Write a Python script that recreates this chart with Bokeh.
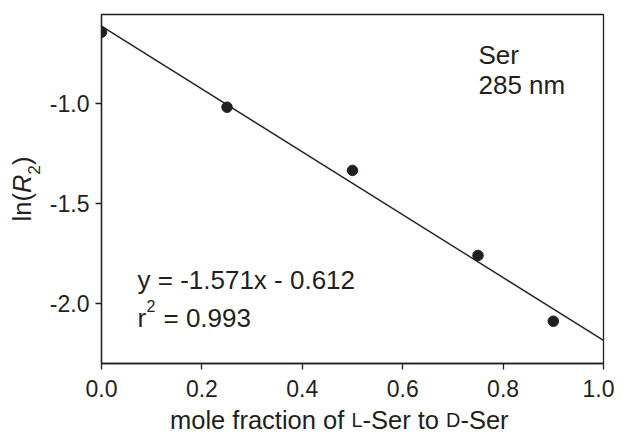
import math
from bokeh.plotting import figure
from bokeh.layouts import column, row
from bokeh.models import Range1d, Label, FixedTicker, PrintfTickFormatter
from bokeh.embed import file_html
from bokeh.resources import INLINE

# ---- data ----
x_frac = [0.0, 0.25, 0.5, 0.75, 0.9]
ln_r2 = [-0.642, -1.017, -1.333, -1.758, -2.087]
fit_slope = -1.571
fit_intercept = -0.612
fit_x = [0.0, 1.0]
x_ticks = [0.0, 0.2, 0.4, 0.6, 0.8, 1.0]
y_ticks = [-2.0, -1.5, -1.0]
x_lim = (0.0, 1.0)
y_lim = (-2.2985, -0.5535)
eq_text = "y = -1.571x - 0.612"
r2_text = "= 0.993"
species = "Ser"
wavelength = "285 nm"

FONT = "Liberation Sans"
INK = "#231f20"

fit_y = [fit_slope * v + fit_intercept for v in fit_x]

YL_W = 46
MAIN_W = 568
MAIN_H = 404
XL_H = 30
TOTAL_W = YL_W + MAIN_W
BASE_FIX = 0.4   # em shift that puts Bokeh's label baseline where intended

p = figure(width=MAIN_W, height=MAIN_H, x_range=Range1d(*x_lim), y_range=Range1d(*y_lim),
           output_backend="svg", toolbar_location=None, title=None,
           min_border_left=101 - YL_W, min_border_right=11, min_border_top=14,
           min_border_bottom=MAIN_H - 363)
p.background_fill_color = "white"
p.border_fill_color = "white"
p.grid.visible = False
p.outline_line_color = INK
p.outline_line_width = 1.3

for ax in (p.xaxis[0], p.yaxis[0]):
    ax.axis_line_color = INK
    ax.axis_line_width = 1.3
    ax.major_tick_line_color = INK
    ax.major_tick_line_width = 1.3
    ax.major_tick_in = 0
    ax.major_tick_out = 6
    ax.minor_tick_line_color = None
    ax.major_label_text_font = FONT
    ax.major_label_text_font_size = "23px"
    ax.major_label_text_color = INK
    ax.formatter = PrintfTickFormatter(format="%.1f")
    ax.axis_label = None
p.xaxis.ticker = FixedTicker(ticks=x_ticks)
p.yaxis.ticker = FixedTicker(ticks=y_ticks)
p.xaxis.major_label_standoff = 10
p.yaxis.major_label_standoff = 6

p.line(fit_x, fit_y, line_color=INK, line_width=1.4)
p.scatter(x_frac, ln_r2, size=10.5, fill_color=INK, line_color=INK, marker="circle")

def dx(px):
    return x_lim[0] + (px - 101) / 502 * (x_lim[1] - x_lim[0])

def dy(py):
    return y_lim[1] - (py - 14) / 349 * (y_lim[1] - y_lim[0])

def lab(fig, text, x, y, size, rotated=False, extra_y=0.0, fix_size=None, **kw):
    fs = size if fix_size is None else fix_size
    if rotated:
        off = dict(x_offset=-BASE_FIX * fs, y_offset=0, angle=math.pi / 2)
    else:
        off = dict(x_offset=0, y_offset=BASE_FIX * fs + extra_y)
    fig.add_layout(Label(x=x, y=y, text=text, text_font=FONT,
                         text_font_size=f"{size}px", text_color=INK,
                         text_baseline="alphabetic", text_align="left", **off, **kw))

FA = 26
lab(p, species, dx(478), dy(65), FA)
lab(p, wavelength, dx(478), dy(95), FA)
lab(p, eq_text, dx(137), dy(290), FA)
lab(p, "r", dx(137), dy(328), FA)
lab(p, "2", dx(146), dy(312), 16)
lab(p, r2_text, dx(163), dy(328), FA)

def strip(w, h, y_range):
    f = figure(width=w, height=h, x_range=Range1d(0, w), y_range=y_range,
               output_backend="svg", toolbar_location=None, title=None,
               x_axis_location=None, y_axis_location=None,
               min_border_left=0, min_border_right=0, min_border_top=0, min_border_bottom=0)
    f.grid.visible = False
    f.outline_line_color = None
    f.background_fill_color = "white"
    f.border_fill_color = "white"
    return f

W = {' ': 278, 'm': 833, 'o': 556, 'l': 222, 'e': 556, 'f': 278, 'r': 333, 'a': 556,
     'c': 500, 't': 278, 'i': 222, 'n': 556, 'L': 556, '-': 333, 'S': 667, 'D': 722,
     '(': 333, ')': 333, 'R': 722, '2': 556}

def tw(s, size):
    return sum(W.get(ch, 556) for ch in s) * size / 1000.0

# y-axis title: its frame is aligned with the main frame, so share the y range
yl = strip(YL_W, MAIN_H, p.y_range)
FY = 25.5
ypieces = [("ln(", FY, 0, "normal"), ("R", FY, 0, "italic"),
           ("2", FY * 0.68, 5, "normal"), (")", FY, 0, "normal")]
total = sum(tw(t, s) for t, s, _, _ in ypieces)
cy = 188.5 + total / 2
for t, s, off, st in ypieces:
    lab(yl, t, 32 + off + BASE_FIX * (FY - s), dy(cy), s, rotated=True, text_font_style=st)
    cy -= tw(t, s)

# x-axis title with small-caps L and D, anchored to the strip's top edge
xl = strip(TOTAL_W, XL_H, Range1d(0, XL_H))
FX = 25.5
SC = FX * 0.78
pieces = [("mole fraction of ", FX), ("L", SC), ("-Ser to ", FX), ("D", SC), ("-Ser", FX)]
cx = 169.5
for t, s in pieces:
    lab(xl, t, cx, XL_H, s, extra_y=-(430 - MAIN_H), fix_size=FX)
    cx += tw(t, s)

layout = column(row(yl, p), xl)
open("out.html", "w").write(file_html(layout, INLINE))
